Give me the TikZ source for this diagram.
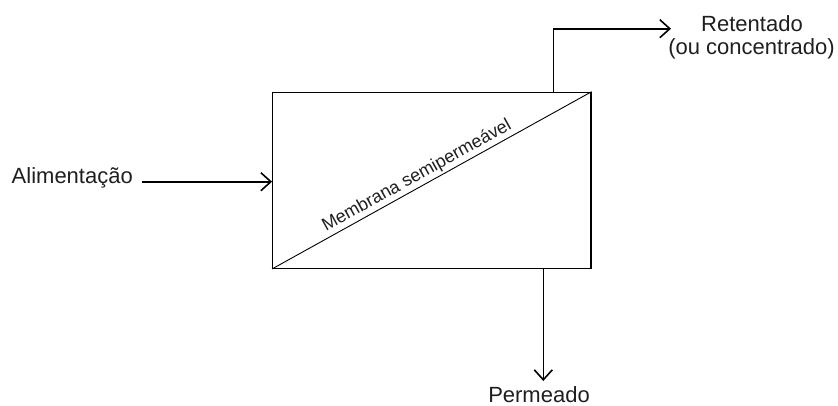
\documentclass[tikz,border=0pt]{standalone}
\usepackage{fontspec}
\setmainfont{Liberation Sans}
\usetikzlibrary{arrows.meta}
\begin{document}
\begin{tikzpicture}[x=1pt,y=-1pt,
  lbl/.style={font=\fontsize{22}{22.3}\selectfont, inner sep=0pt, text=black!88},
  flow/.style={line width=1.6pt, -{Straight Barb[length=10pt,width=18pt,line width=1.6pt]}},
  unit/.style={draw, line width=1.3pt, minimum width=318.3pt, minimum height=176pt, inner sep=0pt},
  membrane/.style={line width=0.9pt},
  ]
\useasboundingbox (0,0) rectangle (838,405);

% separation unit
\node[unit] (box) at (431.85,180.3) {};

% membrane across the unit
\draw[membrane] (box.south west) -- node[pos=0.47, sloped, anchor=south, inner sep=2pt,
  font=\fontsize{18}{18}\selectfont, text=black!88] (memb) {Membrana semipermeável} (box.north east);

% feed stream
\node[lbl, anchor=base east] (feed) at (133,183) {Alimentação};
\coordinate (feedtail) at (142,181.7);
\draw[flow] (feedtail) -- (feedtail -| box.west);

% retentate stream
\node[lbl, anchor=base] (ret) at (752,31.7) {Retentado};
\node[lbl, anchor=base] (conc) at (751.5,54) {(ou concentrado)};
\coordinate (retx) at (553.3,0);
\coordinate (rettip) at (671,28.7);
\draw[flow] (retx |- box.north) |- (rettip);

% permeate stream
\node[lbl, anchor=base] (perm) at (539,402.5) {Permeado};
\coordinate (permtip) at (543.3,381);
\draw[flow] (permtip |- box.south) -- (permtip);
\end{tikzpicture}
\end{document}
